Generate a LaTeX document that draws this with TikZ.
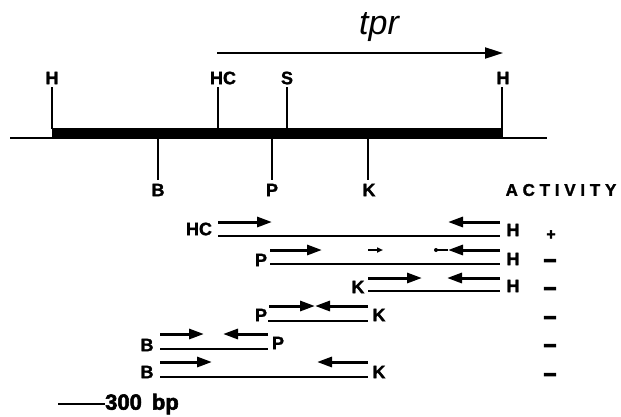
\documentclass[tikz,border=0pt]{standalone}
\usepackage{fontspec}
\setmainfont{Liberation Sans}
\usetikzlibrary{arrows.meta}
\begin{document}
\begin{tikzpicture}[x=1pt,y=-1pt,
  lbl/.style={font=\fontsize{18}{18}\selectfont\bfseries\addfontfeature{FakeBold=1.5}, inner sep=0pt},
  tickline/.style={line width=2pt},
  frag/.style={line width=2.2pt},
  pr/.style={line width=3pt,-{Triangle[length=15pt,width=10pt]}},
  tiny/.style={line width=1.5pt,-{Triangle[length=6pt,width=5pt]}},
  plus/.style={font=\fontsize{16}{16}\selectfont\bfseries\addfontfeature{FakeBold=2.5}, inner sep=0pt},
  minus/.style={font=\fontsize{22}{22}\selectfont\bfseries\addfontfeature{FakeBold=6}, inner sep=0pt}]
\fill[white] (0,0) rectangle (621,416);
\useasboundingbox (0,0) rectangle (621,416);

% gene arrow
\node[font=\fontsize{34}{34}\selectfont\itshape, anchor=base, inner sep=0pt] (tpr) at (379,34) {tpr};
\coordinate (tprS) at (217,53);
\coordinate (tprE) at (503,53);
\draw[line width=2pt,-{Triangle[length=18pt,width=11pt]}] (tprS) -- (tprE);

% restriction map
\coordinate (mapL) at (10,138);
\coordinate (mapR) at (547,138);
\draw[line width=1.6pt] (mapL) -- (mapR);
\fill (52,128) rectangle (503,138.5);

\node[lbl] (tH1) at (52,78) {H};
\node[lbl] (tHC) at (223,78) {HC};
\node[lbl] (tS) at (287,78) {S};
\node[lbl] (tH2) at (503,78) {H};
\coordinate (uH1a) at (52,87);  \coordinate (uH1b) at (52,129);
\coordinate (uHCa) at (218,87); \coordinate (uHCb) at (218,129);
\coordinate (uSa) at (287,87);  \coordinate (uSb) at (287,129);
\coordinate (uH2a) at (502,87); \coordinate (uH2b) at (502,129);
\draw[tickline] (uH1a) -- (uH1b);
\draw[tickline] (uHCa) -- (uHCb);
\draw[tickline] (uSa) -- (uSb);
\draw[tickline] (uH2a) -- (uH2b);

\node[lbl] (bB) at (158,190) {B};
\node[lbl] (bP) at (272,190) {P};
\node[lbl] (bK) at (369,190) {K};
\coordinate (dBa) at (158,138); \coordinate (dBb) at (158,180);
\coordinate (dPa) at (272,138); \coordinate (dPb) at (272,180);
\coordinate (dKa) at (368,138); \coordinate (dKb) at (368,180);
\draw[tickline] (dBa) -- (dBb);
\draw[tickline] (dPa) -- (dPb);
\draw[tickline] (dKa) -- (dKb);

\node[lbl, font=\fontsize{17}{17}\selectfont\bfseries\addfontfeature{FakeBold=1.5,LetterSpace=28}] (act) at (561,190) {ACTIVITY};

% row 1: HC - H
\node[lbl] (r1L) at (199,229) {HC};
\node[lbl] (r1R) at (513,230) {H};
\coordinate (r1a) at (218,236); \coordinate (r1b) at (500,236);
\draw[frag] (r1a) -- (r1b);
\coordinate (r1p1) at (218,222); \coordinate (r1p2) at (272,222);
\coordinate (r1q1) at (500,222); \coordinate (r1q2) at (448,222);
\draw[pr] (r1p1) -- (r1p2);
\draw[pr] (r1q1) -- (r1q2);
\node[plus] (s1) at (551,235) {+};

% row 2: P - H
\node[lbl] (r2L) at (261,260) {P};
\node[lbl] (r2R) at (513,259) {H};
\coordinate (r2a) at (270,264); \coordinate (r2b) at (500,264);
\draw[frag] (r2a) -- (r2b);
\coordinate (r2p1) at (270,250); \coordinate (r2p2) at (322,250);
\coordinate (r2t1) at (368,250); \coordinate (r2t2) at (383,250);
\coordinate (r2q1) at (500,250); \coordinate (r2q2) at (448,250);
\coordinate (r2d) at (436,250);
\draw[pr] (r2p1) -- (r2p2);
\draw[tiny] (r2t1) -- (r2t2);
\draw[pr] (r2q1) -- (r2q2);
\draw[line width=1.5pt] (r2q2) -- (r2d);
\fill (r2d) circle (2);
\node[minus] (s2) at (550,263) {–};

% row 3: K - H
\node[lbl] (r3L) at (358,287) {K};
\node[lbl] (r3R) at (513,286) {H};
\coordinate (r3a) at (368,291); \coordinate (r3b) at (500,291);
\draw[frag] (r3a) -- (r3b);
\coordinate (r3p1) at (368,278); \coordinate (r3p2) at (422,278);
\coordinate (r3q1) at (500,278); \coordinate (r3q2) at (447,278);
\draw[pr] (r3p1) -- (r3p2);
\draw[pr] (r3q1) -- (r3q2);
\node[minus] (s3) at (550,291) {–};

% row 4: P - K
\node[lbl] (r4L) at (261,315) {P};
\node[lbl] (r4R) at (379,315) {K};
\coordinate (r4a) at (268,321); \coordinate (r4b) at (368,321);
\draw[frag] (r4a) -- (r4b);
\coordinate (r4p1) at (269,306); \coordinate (r4p2) at (315,306);
\coordinate (r4q1) at (368,306); \coordinate (r4q2) at (315,306);
\draw[pr] (r4p1) -- (r4p2);
\draw[pr] (r4q1) -- (r4q2);
\node[minus] (s4) at (550,320) {–};

% row 5: B - P
\node[lbl] (r5L) at (147,345) {B};
\node[lbl] (r5R) at (278,343) {P};
\coordinate (r5a) at (160,349); \coordinate (r5b) at (268,349);
\draw[frag] (r5a) -- (r5b);
\coordinate (r5p1) at (160,334); \coordinate (r5p2) at (204,334);
\coordinate (r5q1) at (268,334); \coordinate (r5q2) at (223,334);
\draw[pr] (r5p1) -- (r5p2);
\draw[pr] (r5q1) -- (r5q2);
\node[minus] (s5) at (550,348) {–};

% row 6: B - K
\node[lbl] (r6L) at (147,372) {B};
\node[lbl] (r6R) at (379,372) {K};
\coordinate (r6a) at (160,377); \coordinate (r6b) at (368,377);
\draw[frag] (r6a) -- (r6b);
\coordinate (r6p1) at (160,362); \coordinate (r6p2) at (212,362);
\coordinate (r6q1) at (368,362); \coordinate (r6q2) at (317,362);
\draw[pr] (r6p1) -- (r6p2);
\draw[pr] (r6q1) -- (r6q2);
\node[minus] (s6) at (550,377) {–};

% scale bar
\node[lbl, anchor=west, font=\fontsize{22}{22}\selectfont\bfseries\addfontfeature{FakeBold=2.5}] (scl) at (105,404) {300\hspace{10pt}bp};
\coordinate (sc1) at (58,404);
\draw[line width=1.6pt] (sc1) -- (scl.west);
\end{tikzpicture}
\end{document}
